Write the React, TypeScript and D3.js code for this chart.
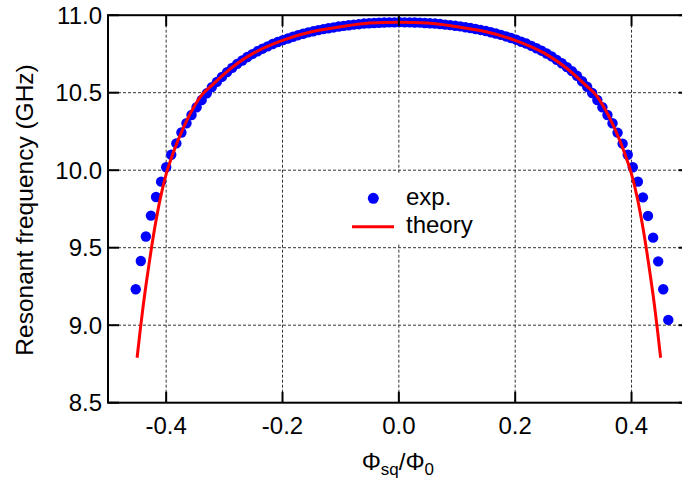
import React from "react";
import * as d3 from "d3";

const expPhi: number[] = [
  -0.4523, -0.4436, -0.4349, -0.4262, -0.4174, -0.4087, -0.4, -0.3913, -0.3825, -0.3738,
  -0.3651, -0.3564, -0.3477, -0.3389, -0.3302, -0.3215, -0.3128, -0.3041, -0.2953, -0.2866,
  -0.2779, -0.2692, -0.2605, -0.2518, -0.243, -0.2343, -0.2256, -0.2169, -0.2082, -0.1994,
  -0.1907, -0.182, -0.1733, -0.1646, -0.1559, -0.1471, -0.1384, -0.1297, -0.121, -0.1122,
  -0.1035, -0.0948, -0.0861, -0.0774, -0.0687, -0.0599, -0.0512, -0.0425, -0.0338, -0.0251,
  -0.0163, -0.0076, 0.0011, 0.0099, 0.0186, 0.0273, 0.036, 0.0447, 0.0535, 0.0622,
  0.0709, 0.0796, 0.0883, 0.097, 0.1058, 0.1145, 0.1232, 0.1319, 0.1406, 0.1494,
  0.1581, 0.1668, 0.1755, 0.1842, 0.1929, 0.2017, 0.2104, 0.2191, 0.2278, 0.2365,
  0.2453, 0.254, 0.2627, 0.2714, 0.2801, 0.2889, 0.2976, 0.3063, 0.315, 0.3237,
  0.3324, 0.3412, 0.3499, 0.3586, 0.3673, 0.376, 0.3847, 0.3935, 0.4022, 0.4109,
  0.4196, 0.4283, 0.4371, 0.4458, 0.4545, 0.4632,
];

const expFreq: number[] = [
  9.232, 9.414, 9.572, 9.707, 9.827, 9.926, 10.019, 10.1, 10.173, 10.243,
  10.303, 10.356, 10.406, 10.453, 10.496, 10.536, 10.57, 10.602, 10.633, 10.66,
  10.686, 10.708, 10.73, 10.749, 10.767, 10.784, 10.799, 10.814, 10.827, 10.839,
  10.85, 10.861, 10.871, 10.88, 10.889, 10.896, 10.904, 10.91, 10.916, 10.921,
  10.927, 10.931, 10.935, 10.939, 10.942, 10.946, 10.948, 10.95, 10.951, 10.953,
  10.954, 10.954, 10.955, 10.954, 10.954, 10.953, 10.952, 10.95, 10.948, 10.946,
  10.943, 10.939, 10.936, 10.932, 10.928, 10.922, 10.917, 10.911, 10.905, 10.898,
  10.89, 10.882, 10.873, 10.863, 10.853, 10.842, 10.829, 10.817, 10.802, 10.787,
  10.771, 10.753, 10.734, 10.712, 10.69, 10.665, 10.639, 10.609, 10.574, 10.538,
  10.498, 10.453, 10.406, 10.356, 10.303, 10.242, 10.171, 10.1, 10.019, 9.926,
  9.825, 9.705, 9.565, 9.412, 9.232, 9.034,
];

const theoryPhi: number[] = [
  -0.45, -0.445, -0.44, -0.43, -0.42, -0.41, -0.4, -0.39, -0.38, -0.36, -0.34, -0.32, -0.3,
  -0.25, -0.2, -0.15, -0.1, -0.05, 0, 0.05, 0.1, 0.15, 0.2, 0.25, 0.3, 0.32, 0.34, 0.36,
  0.38, 0.39, 0.4, 0.41, 0.42, 0.43, 0.44, 0.445, 0.45,
];

const theoryFreq: number[] = [
  8.79, 8.955, 9.11, 9.38, 9.62, 9.82, 9.975, 10.09, 10.19, 10.355, 10.48, 10.552, 10.622,
  10.755, 10.838, 10.893, 10.925, 10.949, 10.955, 10.949, 10.925, 10.893, 10.838, 10.755,
  10.622, 10.552, 10.48, 10.355, 10.19, 10.09, 9.975, 9.82, 9.62, 9.38, 9.11, 8.955, 8.79,
];

const xTicks: number[] = [-0.4, -0.2, 0.0, 0.2, 0.4];
const yTicks: number[] = [8.5, 9.0, 9.5, 10.0, 10.5, 11.0];
const legendLabels: string[] = ["exp.", "theory"];

const W = 682;
const H = 480;
const FONT = "'Liberation Sans', Arial, Helvetica, sans-serif";

const fmt = (v: number) => v.toFixed(1);

export default function App() {
  const x = d3.scaleLinear().domain([-0.5, 0.5]).range([108, 689.7]);
  const y = d3.scaleLinear().domain([8.5, 11.0]).range([402.7, 15.2]);
  const [x0, x1] = x.range();
  const [yb, yt] = y.range();

  const theory = theoryPhi.map((p, i) => [p, theoryFreq[i]] as [number, number]);
  const line = d3
    .line<[number, number]>()
    .x((d) => x(d[0]))
    .y((d) => y(d[1]))
    .curve(d3.curveMonotoneX);

  const tickLen = 11;

  return (
    <svg
      width={W}
      height={H}
      style={{ position: "absolute", left: 0, top: 0, background: "#fff" }}
      fontFamily={FONT}
    >
      <rect x={0} y={0} width={W} height={H} fill="#fff" />
      {/* grid */}
      <g stroke="#333" strokeWidth={1} strokeDasharray="3,2">
        {xTicks.map((t) => (
          <line key={"gx" + t} x1={x(t)} x2={x(t)} y1={yb} y2={yt} />
        ))}
        {yTicks
          .filter((t) => t > 8.5 && t < 11.0)
          .map((t) => (
            <line key={"gy" + t} x1={x0} x2={x1} y1={y(t)} y2={y(t)} />
          ))}
      </g>

      {/* legend background */}
      <rect x={345} y={173} width={140} height={71} fill="#fff" />

      {/* data */}
      <g fill="#0000ff">
        {expPhi.map((p, i) => (
          <circle key={"e" + i} cx={x(p)} cy={y(expFreq[i])} r={5.2} />
        ))}
      </g>
      <path d={line(theory) || ""} fill="none" stroke="#ff0000" strokeWidth={3} />

      {/* frame */}
      <rect x={x0} y={yt} width={x1 - x0} height={yb - yt} fill="none" stroke="#000" strokeWidth={2} />

      {/* ticks */}
      <g stroke="#000" strokeWidth={2}>
        {xTicks.map((t) => (
          <g key={"tx" + t}>
            <line x1={x(t)} x2={x(t)} y1={yb} y2={yb - tickLen} />
            <line x1={x(t)} x2={x(t)} y1={yt} y2={yt + tickLen} />
          </g>
        ))}
        {yTicks.map((t) => (
          <g key={"ty" + t}>
            <line x1={x0} x2={x0 + tickLen} y1={y(t)} y2={y(t)} />
            <line x1={x1} x2={x1 - tickLen} y1={y(t)} y2={y(t)} />
          </g>
        ))}
      </g>

      {/* tick labels */}
      <g fontSize={24} fill="#000">
        {xTicks.map((t) => (
          <text key={"lx" + t} x={x(t)} y={433.5} textAnchor="middle">
            {fmt(t)}
          </text>
        ))}
        {yTicks.map((t) => (
          <text key={"ly" + t} x={102} y={y(t) + 8.5} textAnchor="end">
            {fmt(t)}
          </text>
        ))}
      </g>

      {/* axis titles */}
      <text
        transform={`translate(33, ${(yt + yb) / 2 + 1}) rotate(-90)`}
        textAnchor="middle"
        fontSize={24.5}
        fill="#000"
      >
        Resonant frequency (GHz)
      </text>
      <text x={(x0 + x1) / 2 - 1} y={470} textAnchor="middle" fontSize={24} fill="#000">
        <tspan>Φ</tspan>
        <tspan fontSize={17} dy={5}>sq</tspan>
        <tspan dy={-5}>/Φ</tspan>
        <tspan fontSize={17} dy={5}>0</tspan>
      </text>

      {/* legend */}
      <circle cx={373.3} cy={198.3} r={5.5} fill="#0000ff" />
      <line x1={352} x2={394} y1={226.7} y2={226.7} stroke="#ff0000" strokeWidth={3} />
      <text x={406} y={205} fontSize={24} fill="#000">{legendLabels[0]}</text>
      <text x={406} y={233} fontSize={24} fill="#000">{legendLabels[1]}</text>
    </svg>
  );
}
